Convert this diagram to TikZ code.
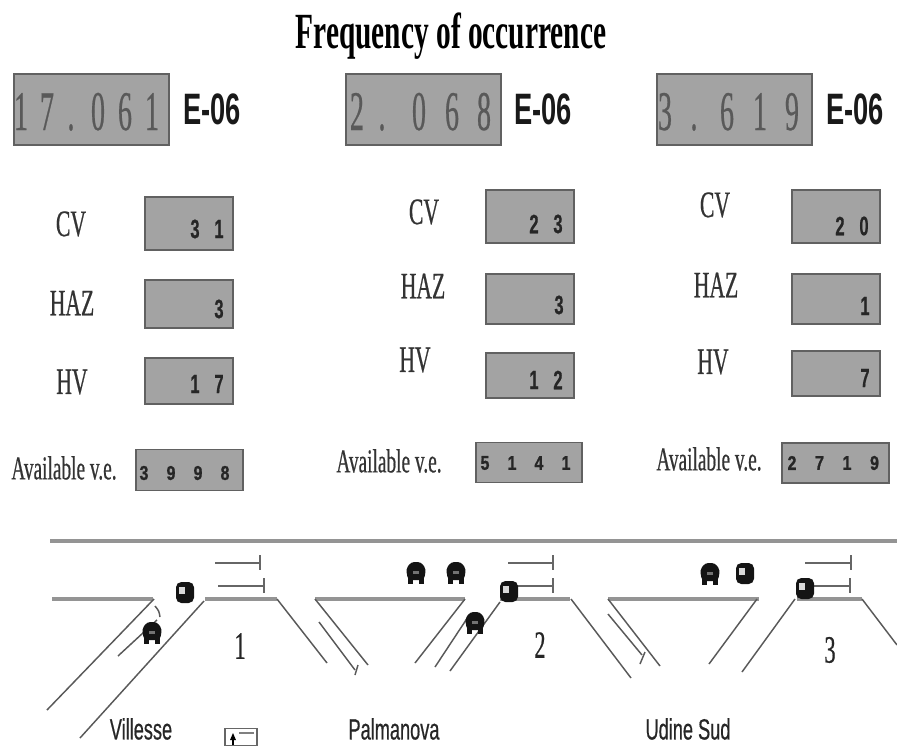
\documentclass[tikz,border=0pt]{standalone}
\usepackage{fontspec}
\usepackage{xcolor}
\newfontfamily\serifthin[FakeStretch=0.58]{Liberation Serif}
\newfontfamily\serifheavy[FakeStretch=0.58,FakeBold=0.5]{Liberation Serif}
\newfontfamily\digitthin[FakeStretch=0.5,FakeBold=0.4]{Liberation Serif}
\newfontfamily\sansthin[FakeStretch=0.62]{Liberation Sans}
\newfontfamily\sansheavy[FakeStretch=0.62,FakeBold=0.5]{Liberation Sans}
\newfontfamily\sansdigit[FakeStretch=0.8,FakeBold=1]{Liberation Sans}
\begin{document}
\begin{tikzpicture}[
  x=0.75pt,y=-0.75pt,
  panel/.style={draw=black!62,fill=black!36,line width=1.2pt,inner sep=0pt},
  rowlbl/.style={font=\serifheavy\fontsize{28}{28}\selectfont,text=black!80},
  availlbl/.style={font=\serifheavy\fontsize{25}{25}\selectfont,text=black!80},
  expo/.style={font=\sansthin\bfseries\fontsize{33}{33}\selectfont,text=black!90},
  topdigit/.style={font=\digitthin\fontsize{42}{42}\selectfont,text=black!65,anchor=base},
  smalldigit/.style={font=\sansheavy\bfseries\fontsize{20}{20}\selectfont,text=black!85},
  availdigit/.style={font=\sansdigit\bfseries\fontsize{15}{15}\selectfont,text=black!85},
  place/.style={font=\sansheavy\fontsize{22}{22}\selectfont,text=black!85},
  gatenum/.style={font=\serifheavy\fontsize{29}{29}\selectfont,text=black!85},
  mainroad/.style={draw=black!42,line width=3.2pt},
  ramp/.style={draw=black!65,line width=1.1pt},
  stopbar/.style={draw=black!60,line width=1.2pt},
  bus/.pic={
    \fill[black!92,rounded corners=4pt] (-9,-11) rectangle (9,10);
    \fill[black!15] (-6,-6) rectangle (0,1);
  },
  coach/.pic={
    \fill[black!92,rounded corners=2.5pt] (-5,-11) -- (5,-11) -- (10,-4) -- (8,7) -- (-8,7) -- (-10,-4) -- cycle;
    \fill[black!92] (-8,5) rectangle (-3,11);
    \fill[black!92] (3,5) rectangle (8,11);
    \fill[black!55] (-3,-2) rectangle (3,1);
  }
]
  \useasboundingbox (0,0) rectangle (897,747);

  % Title
  \node[font=\serifthin\bfseries\fontsize{38}{38}\selectfont] (title) at (451,36) {Frequency of occurrence};

  % Frequency displays
  \foreach \x/\y/\w/\h/\nm in {91.5/109.5/155/71/freqA,423.5/109.5/155/71/freqB,734.5/109.5/155/71/freqC,
    189/223.5/88/53/cvA,189/304/88/48/hazA,189/381/88/46/hvA,189.5/470/107/41/availA,
    530/216.5/88/53/cvB,530/299/88/50/hazB,530/375.5/88/45/hvB,529/462.5/106/40/availB,
    836/216.5/88/53/cvC,836/299/88/50/hazC,836/373.5/88/45/hvC,835.5/463/107/40/availC} {
    \node[panel,minimum width=0.75*\w pt,minimum height=0.75*\h pt] (\nm) at (\x,\y) {};
  }

  \foreach \x/\nm in {212/expA,543/expB,855/expC} {
    \node[expo] (\nm) at (\x,109) {E-06};
  }

  % Digits of the big displays
  \foreach \x/\d in {21/1,47/7,71/.,98/0,125/6,152/1,
    357/2,382/.,419/0,452/6,484/8,
    665/3,694/.,727/6,760/1,792/9} {
    \node[topdigit] (big\x) at (\x,130) {\d};
  }

  % Digits of the small displays: first x, y, gap, values
  \foreach \x/\y/\g/\vals/\nm in {195/229/24/{3,1}/a,219/309/0/{3}/b,195/384/24/{1,7}/c,
    534/224/24/{2,3}/d,559/305/0/{3}/e,534/380/24/{1,2}/f,
    840/226/24/{2,0}/g,865/306/0/{1}/h,865/378/0/{7}/i} {
    \foreach \d [count=\i] in \vals {
      \node[smalldigit] (small\nm\i) at ({\x+(\i-1)*\g},\y) {\d};
    }
  }
  \foreach \x/\y/\g/\vals/\nm in {144/473/27/{3,9,9,8}/a,485/463/27/{5,1,4,1}/b,792/463/27.5/{2,7,1,9}/c} {
    \foreach \d [count=\i] in \vals {
      \node[availdigit] (avail\nm\i) at ({\x+(\i-1)*\g},\y) {\d};
    }
  }

  % Row labels
  \foreach \x/\y/\t/\nm in {71/224/CV/lcvA,72/303/HAZ/lhazA,72/382/HV/lhvA,
    424/212/CV/lcvB,423/286/HAZ/lhazB,415/360/HV/lhvB,
    715/205/CV/lcvC,716/285/HAZ/lhazC,713/362/HV/lhvC} {
    \node[rowlbl] (\nm) at (\x,\y) {\t};
  }
  \foreach \x/\y/\nm in {64/468/lavA,389/461/lavB,709/459/lavC} {
    \node[availlbl] (\nm) at (\x,\y) {Available v.e.};
  }

  %% ===== Motorway with the three junctions =====
  \draw[mainroad] (50,541) -- (897,541);
  \foreach \a/\b in {52/153,205/277,315/465,500/570,608/759,797/862} {
    \draw[mainroad] (\a,599) -- (\b,599);
  }

  % Ramps
  \draw[ramp] (154,599) -- (47,710);
  \draw[ramp] (204,601) -- (80,738);
  \draw[ramp] (157,620) -- (118,656);
  \draw[ramp] (155,606) .. controls (159,611) .. (160,617);
  \draw[ramp] (277,599) -- (327,663);
  \draw[ramp] (315,599) -- (368,665);
  \draw[ramp] (319,622) -- (355,670);
  \draw[ramp] (358,665) -- (355,675);
  \draw[ramp] (465,599) -- (415,663);
  \draw[ramp] (468,617) -- (435,667);
  \draw[ramp] (500,602) -- (450,671);
  \draw[ramp] (571,599) -- (631,678);
  \draw[ramp] (608,599) -- (660,666);
  \draw[ramp] (608,614) -- (642,655);
  \draw[ramp] (645,652) -- (640,664);
  \draw[ramp] (757,599) -- (709,664);
  \draw[ramp] (795,599) -- (742,672);
  \draw[ramp] (862,599) -- (897,645);

  % Stop bars over each junction
  \foreach \a/\b/\y in {215/260/563,218/264/586,508/553/563,510/553/586,805/851/563,810/850/586} {
    \draw[stopbar] (\a,\y) -- (\b,\y);
    \draw[stopbar] (\b,{\y-8}) -- (\b,{\y+7});
  }

  % Vehicles
  \foreach \x/\y in {185/593,509/592,745/574,805/589} {
    \pic at (\x,\y) {bus};
  }
  \foreach \x/\y in {152/633,416/573,456/573,475/623,710/574} {
    \pic at (\x,\y) {coach};
  }

  % Junction numbers and place names
  \node[gatenum] (gateA) at (240,646) {1};
  \node[gatenum] (gateB) at (540,645) {2};
  \node[gatenum] (gateC) at (830,650) {3};
  \node[place] (villesse) at (141,729) {Villesse};
  \node[place] (palmanova) at (394,729) {Palmanova};
  \node[place] (udine) at (688,729) {Udine Sud};

  % Small sign at the lower edge
  \node[draw=black!60,line width=0.8pt,minimum width=24pt,minimum height=13pt,inner sep=0pt] (sign) at (241,737) {};
  \fill[black] (233,733) -- (236,740) -- (230,740) -- cycle;
  \fill[black] (232,739) rectangle (234,745);
  \draw[black!50,line width=1.5pt] (239,733) -- (254,733);
\end{tikzpicture}
\end{document}
